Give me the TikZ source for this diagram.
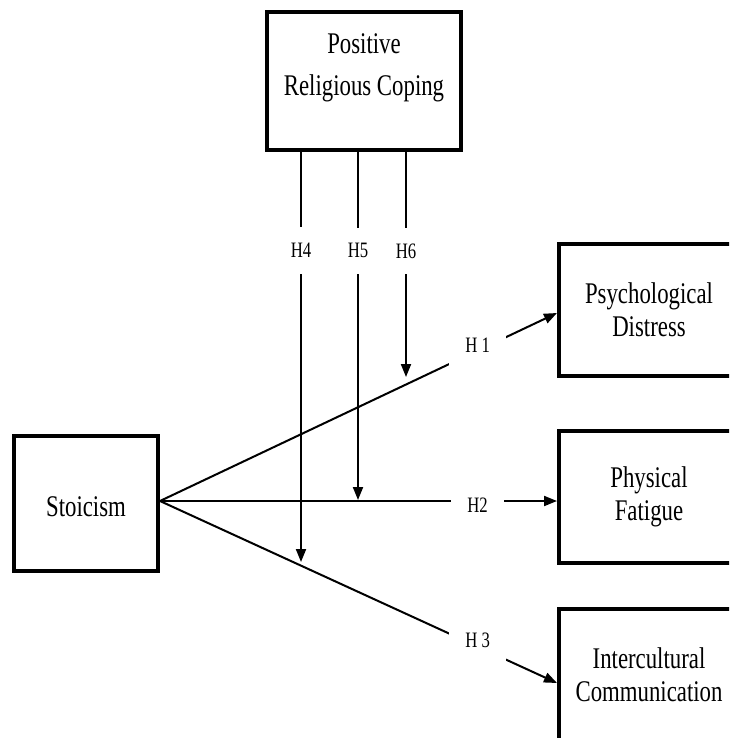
\documentclass[tikz,border=0pt]{standalone}
\usepackage{fontspec}
\setmainfont[FakeStretch=0.76]{Liberation Serif}
\usetikzlibrary{arrows.meta}

\begin{document}
\begin{tikzpicture}[x=0.5pt,y=-0.5pt,
    var/.style={draw,line width=2pt,align=center,inner sep=0pt,font=\fontsize{15}{16.5}\selectfont},
    hyp/.style={fill=white,inner sep=8pt,font=\fontsize{11}{13}\selectfont},
    link/.style={line width=1pt,-{Triangle[length=6.5pt,width=5pt]}}]
            \clip (0,0) rectangle (729,738);
            % variables
            \node[var,minimum width=97pt,minimum height=69pt] (prc) at (364,81) {};
            \node[align=center,anchor=north,inner sep=0pt,font=\fontsize{15}{16.5}\selectfont] (prctext) at ([yshift=-11.8pt]prc.north) {Positive\\[4.5pt]Religious Coping};
            \node[var,minimum width=72pt,minimum height=67.5pt,text height=13pt,text depth=0pt] (stoic) at (86,503.5) {Stoicism};
            \node[var,minimum width=90pt,minimum height=66pt] (dist) at (649,309.5) {Psychological\\Distress};
            \node[var,minimum width=90pt,minimum height=66pt] (fat) at (649,497) {Physical\\Fatigue};
            \node[var,minimum width=90pt,minimum height=66pt] (comm) at (649,675) {Intercultural\\Communication};
            % direct paths
            \coordinate (s) at ([yshift=1.25pt]stoic.east);
            \draw[link] (s) -- node[hyp,pos=0.8,yshift=2.5pt] (h1) {H 1} ([yshift=-1.75pt]dist.west);
            \draw[link] (s) -- node[hyp,pos=0.8,yshift=-2pt] (h2) {H2} ([yshift=-2pt]fat.west);
            \draw[link] (s) -- node[hyp,pos=0.8,yshift=3pt] (h3) {H 3} ([yshift=-4pt]comm.west);
            % moderation
            \coordinate (m4) at (301,562);
            \coordinate (m5) at (358,500);
            \coordinate (m6) at (406,377);
            \draw[link] (prc.south -| m4) -- node[hyp,pos=0.24] (h4) {H4} (m4);
            \draw[link] (prc.south -| m5) -- node[hyp,pos=0.284] (h5) {H5} (m5);
            \draw[link] (prc.south -| m6) -- node[hyp,pos=0.44] (h6) {H6} (m6);
        \end{tikzpicture}
\end{document}
